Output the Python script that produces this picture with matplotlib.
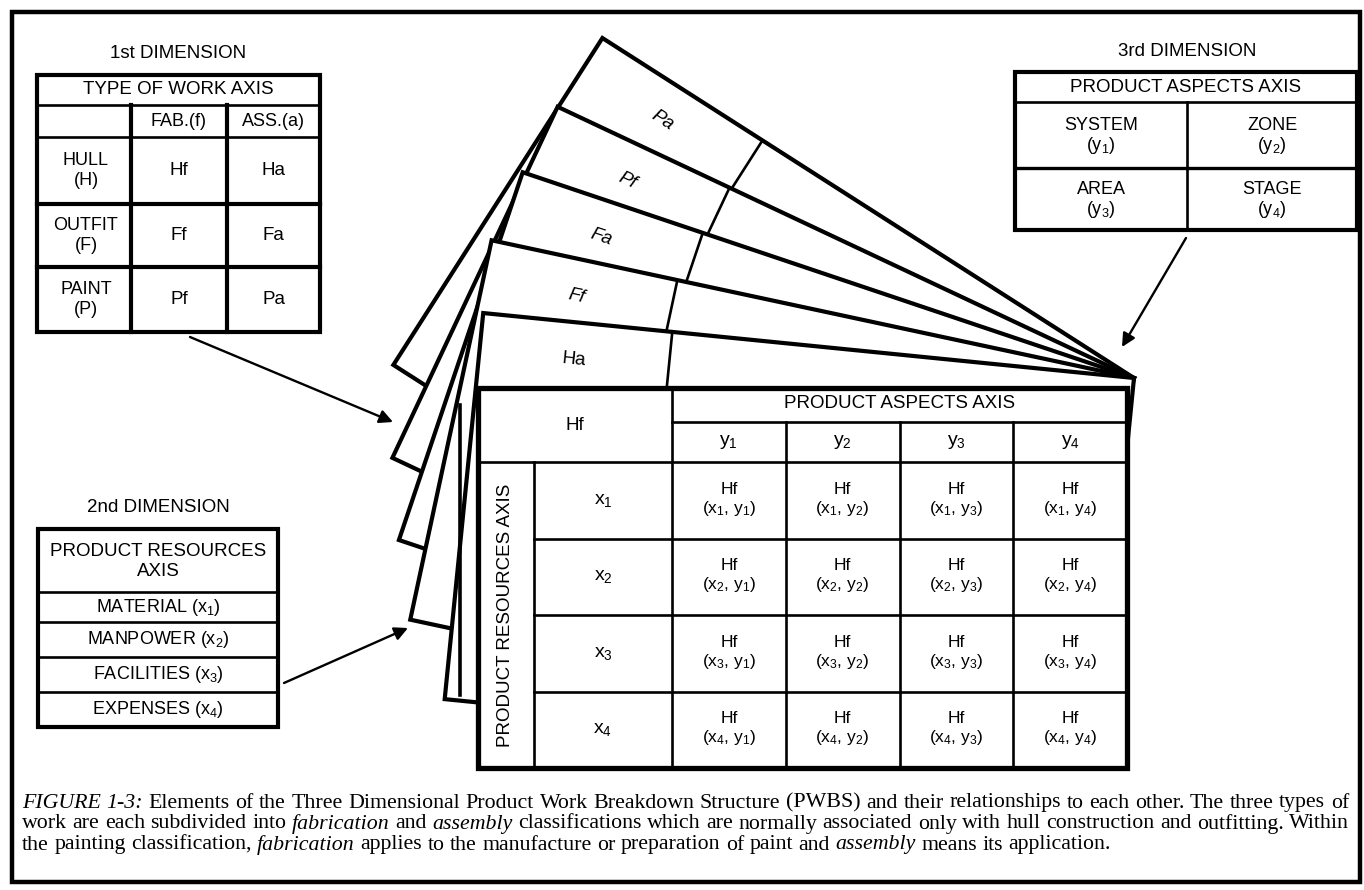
import numpy as np
import matplotlib.pyplot as plt
from matplotlib.patches import Polygon, Rectangle

# ---- contenido del diagrama ----
work_rows = ["HULL", "OUTFIT", "PAINT"]
work_row_codes = ["(H)", "(F)", "(P)"]
work_cols = ["FAB.(f)", "ASS.(a)"]
work_cells = [["Hf", "Ha"], ["Ff", "Fa"], ["Pf", "Pa"]]

resources = ["MATERIAL", "MANPOWER", "FACILITIES", "EXPENSES"]
aspects = ["SYSTEM", "ZONE", "AREA", "STAGE"]

fan_labels = ["Ha", "Ff", "Fa", "Pf", "Pa"]       # de delante hacia atras
fan_angles = [5.7, 12.1, 18.6, 25.2, 32.6]         # grados
fan_widths = [654, 657, 645, 637, 631]

front_code = "Hf"
x_labels = ["x_1", "x_2", "x_3", "x_4"]
y_labels = ["y_1", "y_2", "y_3", "y_4"]

caption = [
    "*FIGURE* *1-3:* Elements of the Three Dimensional Product Work Breakdown Structure (PWBS) "
    "and their relationships to each other. The three types of",
    "work are each subdivided into *fabrication* and *assembly* classifications which are normally "
    "associated only with hull construction and outfitting. Within",
    "the painting classification, *fabrication* applies to the manufacture or preparation of paint "
    "and *assembly* means its application.",
]

SANS = "Liberation Sans"
SERIF = "Liberation Serif"
THICK = 3.0
THIN = 1.9

fig = plt.figure(figsize=(13.64, 8.90), dpi=100)
ax = fig.add_axes([0, 0, 1, 1])
ax.set_xlim(0, 1364)
ax.set_ylim(890, 0)
ax.axis("off")


def txt(x, y, s, size=13, z=40, **kw):
    ax.text(x, y, s, ha="center", va="center", fontsize=size, family=SANS, zorder=z, **kw)


def seg(x0, y0, x1, y1, lw=THIN, z=35):
    ax.plot([x0, x1], [y0, y1], color="k", lw=lw, zorder=z, solid_capstyle="projecting")


def box(x0, y0, x1, y1, lw=THICK, z=34):
    ax.add_patch(Rectangle((x0, y0), x1 - x0, y1 - y0, fc="white", ec="k", lw=lw,
                           zorder=z, joinstyle="miter"))


def sub(s):
    return r"$\mathregular{" + s + "}$"


def pair(xl, yl):
    return "(" + sub(xl) + ", " + sub(yl) + ")"


# marco exterior
ax.add_patch(Rectangle((12, 12), 1348, 870, fc="none", ec="k", lw=3.2, zorder=50))

# ---- abanico de hojas ----
pivot = np.array([1134.0, 378.0])
sheet_h = 388
for k in range(len(fan_labels) - 1, -1, -1):
    th = np.radians(fan_angles[k])
    d = np.array([np.cos(th), np.sin(th)])
    n = np.array([-np.sin(th), np.cos(th)])
    tl = pivot - fan_widths[k] * d
    bl = tl + sheet_h * n
    br = pivot + sheet_h * n
    z = 10 + 2 * (len(fan_labels) - k)
    ax.add_patch(Polygon([tl, pivot, br, bl], closed=True, fc="white", ec="k",
                         lw=THICK, zorder=z, joinstyle="miter"))
    a = tl + 190 * d
    b = a + sheet_h * n
    ax.plot([a[0], b[0]], [a[1], b[1]], color="k", lw=THIN, zorder=z + 0.5)
    p = tl + 95 * d + 37 * n
    ax.text(p[0], p[1], fan_labels[k], rotation=-fan_angles[k], rotation_mode="anchor",
            ha="center", va="center", fontsize=13.5, family=SANS,
            style="normal" if k == 0 else "italic", zorder=z + 0.6)

seg(460, 405, 460, 695, lw=2.6, z=23)

# ---- tabla frontal (Hf) ----
L, R, T, B = 478, 1127, 388, 768
c_lab, c_x = 534, 672
ycols = np.linspace(c_x, R, len(y_labels) + 1)
r_head, r_y = 422, 462
xrows = np.linspace(r_y, B, len(x_labels) + 1)

box(L, T, R, B, lw=3.8, z=30)
seg(c_x, r_head, R, r_head)
seg(L, r_y, R, r_y)
seg(c_x, T, c_x, B)
for xc in ycols[1:-1]:
    seg(xc, r_head, xc, B)
seg(c_lab, r_y, c_lab, B)
for yr in xrows[1:-1]:
    seg(c_lab, yr, R, yr)

txt((L + c_x) / 2, (T + r_y) / 2, front_code, size=13.5)
txt((c_x + R) / 2, (T + r_head) / 2 - 1, "PRODUCT ASPECTS AXIS", size=13.5)
txt((L + c_lab) / 2, (r_y + B) / 2, "PRODUCT RESOURCES AXIS", size=13.5, rotation=90)
for j, yl in enumerate(y_labels):
    txt((ycols[j] + ycols[j + 1]) / 2, (r_head + r_y) / 2, sub(yl), size=14)
for i, xl in enumerate(x_labels):
    yc = (xrows[i] + xrows[i + 1]) / 2
    txt((c_lab + c_x) / 2, yc, sub(xl), size=14)
    for j, yl in enumerate(y_labels):
        xc = (ycols[j] + ycols[j + 1]) / 2
        txt(xc, yc - 11, front_code, size=12.5)
        txt(xc, yc + 8, pair(xl, yl), size=12.5)

# ---- 1st DIMENSION ----
txt(178, 53, "1st DIMENSION", size=13.5)
t1_cols = [37, 131, 227, 320]
t1_rows = [75, 105, 137, 204, 267, 332]
box(t1_cols[0], t1_rows[0], t1_cols[-1], t1_rows[-1])
for yr in t1_rows[1:-1]:
    seg(t1_cols[0], yr, t1_cols[-1], yr, lw=THICK if yr > t1_rows[2] else THIN)
for xc in t1_cols[1:-1]:
    seg(xc, t1_rows[1], xc, t1_rows[-1], lw=THICK)
txt(178, 90, "TYPE OF WORK AXIS", size=13.5)
for j, c in enumerate(work_cols):
    txt((t1_cols[j + 1] + t1_cols[j + 2]) / 2, 121, c)
for i, (rl, rc) in enumerate(zip(work_rows, work_row_codes)):
    yc = (t1_rows[i + 2] + t1_rows[i + 3]) / 2
    txt(86, yc - 10, rl)
    txt(86, yc + 10, rc)
    for j, code in enumerate(work_cells[i]):
        txt((t1_cols[j + 1] + t1_cols[j + 2]) / 2, yc, code, size=13.5)

# ---- 2nd DIMENSION ----
txt(158, 508, "2nd DIMENSION", size=13.5)
t2_rows = [529, 592, 622, 657, 692, 727]
box(38, t2_rows[0], 278, t2_rows[-1])
for yr in t2_rows[1:-1]:
    seg(38, yr, 278, yr)
txt(158, 552, "PRODUCT RESOURCES", size=13.5)
txt(158, 572, "AXIS", size=13.5)
for i, r in enumerate(resources):
    txt(158, (t2_rows[i + 1] + t2_rows[i + 2]) / 2, r + " (" + sub(x_labels[i]) + ")")

# ---- 3rd DIMENSION ----
txt(1187, 52, "3rd DIMENSION", size=13.5)
t3_rows = [72, 102, 168, 230]
t3_l, t3_m, t3_r = 1015, 1187, 1357
box(t3_l, t3_rows[0], t3_r, t3_rows[-1])
seg(t3_l, t3_rows[1], t3_r, t3_rows[1])
seg(t3_l, t3_rows[2], t3_r, t3_rows[2], lw=THICK * 0.8)
seg(t3_m, t3_rows[1], t3_m, t3_rows[-1])
txt(1186, 87, "PRODUCT ASPECTS AXIS", size=13.5)
for k, a in enumerate(aspects):
    xc = (t3_l + t3_m) / 2 if k % 2 == 0 else (t3_m + t3_r) / 2
    yc = (t3_rows[1 + k // 2] + t3_rows[2 + k // 2]) / 2
    txt(xc, yc - 10, a)
    txt(xc, yc + 10, "(" + sub(y_labels[k]) + ")")

# ---- flechas ----
arrow_kw = dict(arrowstyle="-|>", color="k", lw=1.7, mutation_scale=20, shrinkA=0, shrinkB=0)
for (xs, ys), (xe, ye) in [((190, 337), (393, 422)), ((284, 683), (408, 628)),
                           ((1186, 238), (1122, 347))]:
    ax.annotate("", xy=(xe, ye), xytext=(xs, ys), arrowprops=arrow_kw, zorder=45)

# ---- pie de figura (justificado) ----
renderer = fig.canvas.get_renderer()


def word_width(w, size, italic=False):
    t = ax.text(0, 0, w, fontsize=size, family=SERIF, style="italic" if italic else "normal")
    wd = t.get_window_extent(renderer).width
    t.remove()
    return wd


def line_width(words, size):
    sp = word_width("a a", size) - word_width("aa", size)
    return sum(word_width(w, size, it) for w, it in words) + (len(words) - 1) * sp


def parse(line):
    return [(w.strip("*"), w.startswith("*")) for w in line.split(" ")]


lines = [parse(l) for l in caption]
x0, x1 = 22, 1349
# tamaño: la linea mas larga cabe con espacios normales
cap_size = min(10 * (x1 - x0) / line_width(l, 10) for l in lines[:2])
space = word_width("a a", cap_size) - word_width("aa", cap_size)

for li, (words, yl) in enumerate(zip(lines, [803, 824, 845])):
    widths = [word_width(w, cap_size, it) for w, it in words]
    gap = (x1 - x0 - sum(widths)) / (len(words) - 1) if li < 2 else space
    x = x0
    for (w, it), wd in zip(words, widths):
        ax.text(x, yl, w, ha="left", va="center", fontsize=cap_size, family=SERIF,
                style="italic" if it else "normal", zorder=40)
        x += wd + gap

fig.savefig("out.png", dpi=100, facecolor="white")
